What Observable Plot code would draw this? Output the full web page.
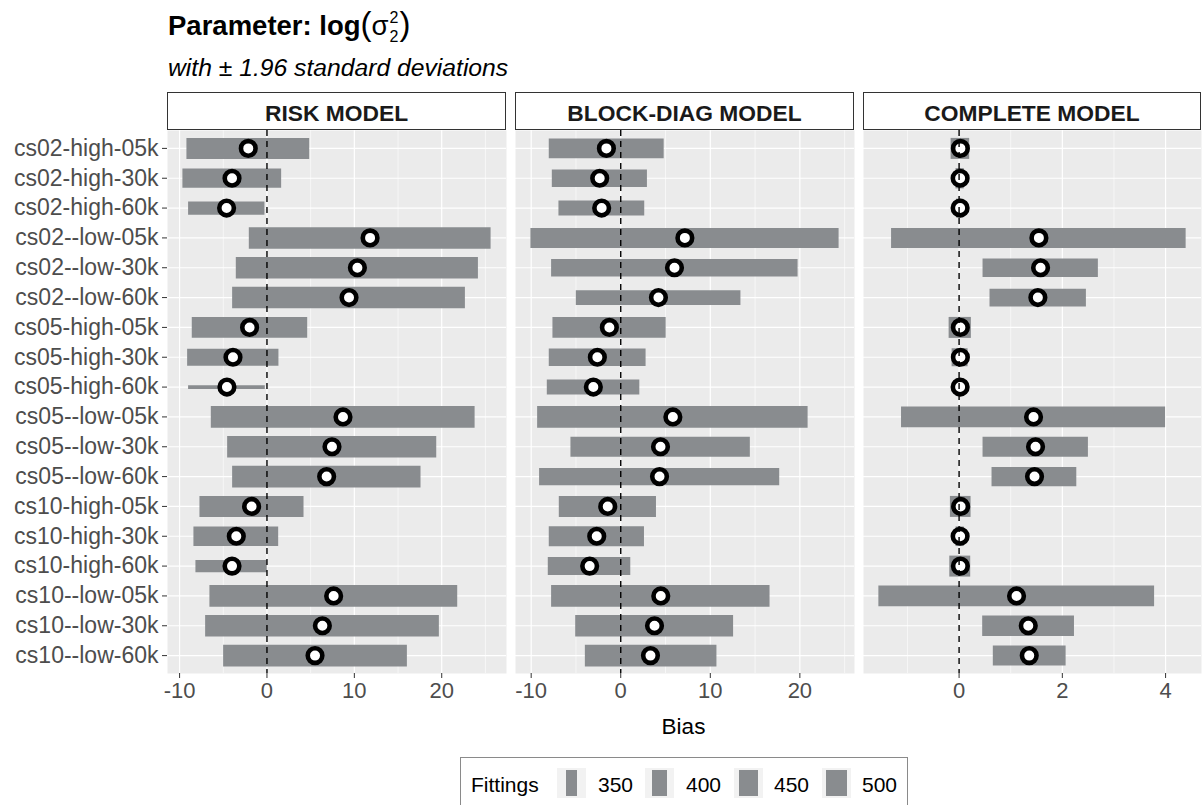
<!DOCTYPE html>
<html><head><meta charset="utf-8">
<script src="https://cdn.jsdelivr.net/npm/d3@7"></script>
<script src="https://cdn.jsdelivr.net/npm/@observablehq/plot@0.6"></script>
<style>
body{margin:0;background:#fff;font-family:"Liberation Sans",Arial,sans-serif;}
#root{position:relative;width:1202px;height:805px;overflow:hidden;background:#fff;}
.abs{position:absolute;line-height:1;white-space:nowrap;}
.strip{position:absolute;top:92px;height:38px;box-sizing:border-box;border:1px solid #333;background:#fff;font-weight:bold;font-size:22.8px;color:#1a1a1a;text-align:center;line-height:1;padding-top:8.5px;white-space:nowrap;}
.paren{font-size:33px;font-weight:normal;line-height:0;}
.ss{display:inline-block;position:relative;width:11px;height:0;}
.ss span{position:absolute;left:1px;font-size:16px;font-weight:normal;line-height:1;}
.plot{position:absolute;top:130px;}
#legend{position:absolute;left:460px;top:757px;width:448px;height:70px;box-sizing:border-box;border:1px solid #8a8a8a;background:#fff;}
.lkey{position:absolute;top:10px;width:29px;height:30px;background:#f2f2f2;}
.lkey div{position:absolute;top:2px;height:26px;background:#898c8f;}
.ltxt{position:absolute;font-size:21px;line-height:1;color:#000;}
</style></head>
<body><div id="root">
<div class="abs" style="left:168px;top:11.5px;font-size:27.5px;color:#000;"><b>Parameter: log</b><span class="paren">(</span><span style="font-weight:normal">σ</span><span class="ss"><span style="top:-24.5px">2</span><span style="top:-5.5px">2</span></span><span class="paren">)</span></div>
<div class="abs" style="left:168px;top:56px;font-size:24.7px;font-style:italic;color:#000;">with ± 1.96 standard deviations</div>
<div class="strip" style="left:167px;width:339px;height:37.5px;">RISK MODEL</div>
<div class="strip" style="left:515px;width:339px;height:37.5px;">BLOCK-DIAG MODEL</div>
<div class="strip" style="left:863px;width:338px;height:37.5px;">COMPLETE MODEL</div>
<div id="p1" class="plot" style="left:0px;"></div>
<div id="p2" class="plot" style="left:515px;"></div>
<div id="p3" class="plot" style="left:863px;"></div>
<div class="abs" style="left:0;width:1367px;text-align:center;top:716px;font-size:22.5px;color:#000;">Bias</div>
<div id="legend"></div>
</div>
<script>
const categories = ["cs02-high-05k","cs02-high-30k","cs02-high-60k","cs02--low-05k","cs02--low-30k","cs02--low-60k","cs05-high-05k","cs05-high-30k","cs05-high-60k","cs05--low-05k","cs05--low-30k","cs05--low-60k","cs10-high-05k","cs10-high-30k","cs10-high-60k","cs10--low-05k","cs10--low-30k","cs10--low-60k"];

const riskLo  = [-9.16,-9.62,-8.97,-2.02,-3.51,-3.93,-8.55,-9.08,-8.97,-6.37,-4.50,-3.93,-7.67,-8.36,-8.13,-6.53,-7.02,-4.96];
const riskEst = [-2.14,-4.00,-4.62,11.80,10.35,9.39,-1.99,-3.89,-4.58,8.70,7.44,6.83,-1.76,-3.51,-4.00,7.63,6.34,5.50];
const riskHi  = [4.89,1.68,-0.23,25.65,24.20,22.71,4.66,1.37,-0.19,23.82,19.43,17.63,4.24,1.34,0.03,21.83,19.73,16.07];
const riskFit = [490,466,382,498,498,498,486,434,246,500,500,500,490,472,368,500,500,500];

const blockLo  = [-7.98,-7.64,-6.90,-10.03,-7.72,-4.96,-7.57,-7.98,-8.20,-9.28,-5.56,-9.06,-6.86,-7.98,-8.09,-7.72,-5.03,-3.95];
const blockEst = [-1.60,-2.35,-2.13,7.16,6.00,4.21,-1.27,-2.61,-3.06,5.82,4.44,4.33,-1.45,-2.68,-3.47,4.47,3.77,3.32];
const blockHi  = [4.85,2.98,2.68,24.38,19.80,13.42,5.07,2.83,2.13,20.92,14.47,17.75,3.99,2.65,1.12,16.67,12.60,10.74];
const blockFit = [472,444,406,476,438,402,486,438,406,500,476,438,490,476,448,500,500,500];

const completeLo  = [-0.155,-0.06,-0.05,-1.308,0.464,0.599,-0.193,-0.135,-0.06,-1.115,0.464,0.638,-0.168,-0.06,-0.18,-1.554,0.457,0.663];
const completeEst = [0.025,0.02,0.02,1.546,1.578,1.526,0.025,0.025,0.02,1.442,1.481,1.461,0.03,0.02,0.025,1.113,1.34,1.359];
const completeHi  = [0.205,0.10,0.09,4.398,2.698,2.466,0.238,0.174,0.10,4.0,2.505,2.28,0.232,0.10,0.225,3.787,2.235,2.073];
const completeFit = [490,480,460,476,458,444,490,448,440,486,476,466,490,470,490,486,486,476];

const riskTicks = [-10,0,10,20], riskMinor = [-5,5,15,25];
const blockTicks = [-10,0,10,20], blockMinor = [-5,5,15,25];
const completeTicks = [0,2,4], completeMinor = [-1,1,3];
const legendBreaks = [350,400,450,500];

const allFit = [...riskFit, ...blockFit, ...completeFit];
const wScale = d3.scaleLinear().domain(d3.extent(allFit)).range([3.6, 21.7]);

function panel(lo, est, hi, fit, ticks, minor, width, marginLeft, showY) {
  const rows = categories.map((c, i) => ({cat: c, lo: lo[i], est: est[i], hi: hi[i], fit: fit[i]}));
  const mn = d3.min(lo), mx = d3.max(hi), pad = (mx - mn) * 0.05;
  return Plot.plot({
    width, height: 588, marginTop: 0, marginBottom: 45, marginLeft, marginRight: 0,
    style: {background: "transparent", overflow: "visible", fontFamily: "Liberation Sans, Arial, sans-serif", fontSize: "22px"},
    x: {domain: [mn - pad, mx + pad]},
    y: {type: "point", domain: categories, padding: 0.6, round: false, axis: showY ? undefined : null},
    marks: [
      Plot.frame({fill: "#ebebeb", stroke: "none"}),
      Plot.ruleX(minor, {stroke: "#fff", strokeWidth: 0.6}),
      Plot.ruleX(ticks, {stroke: "#fff", strokeWidth: 1.2}),
      Plot.ruleY(categories, {stroke: "#fff", strokeWidth: 1.2}),
      Plot.ruleY(rows, {y: "cat", x1: "lo", x2: "hi", stroke: "#898c8f", strokeWidth: d => wScale(d.fit)}),
      Plot.dot(rows, {x: "est", y: "cat", r: 7.3, fill: "#fff", stroke: "#000", strokeWidth: 4.6}),
      Plot.ruleX([0], {stroke: "#000", strokeWidth: 1.4, strokeDasharray: "6,5"}),
      Plot.axisX({ticks, tickFormat: d => String(d), tickSize: 5, tickPadding: 4, fontSize: 22, stroke: "#333", fill: "#4d4d4d", label: null}),
      showY ? Plot.axisY({tickSize: 5, tickPadding: 4, fontSize: 23, stroke: "#333", fill: "#4d4d4d", label: null}) : null
    ]
  });
}

document.getElementById("p1").append(panel(riskLo, riskEst, riskHi, riskFit, riskTicks, riskMinor, 506, 167, true));
document.getElementById("p2").append(panel(blockLo, blockEst, blockHi, blockFit, blockTicks, blockMinor, 339, 0, false));
document.getElementById("p3").append(panel(completeLo, completeEst, completeHi, completeFit, completeTicks, completeMinor, 338, 0, false));

// legend
const lg = document.getElementById("legend");
const t0 = document.createElement("div");
t0.className = "ltxt"; t0.style.left = "10px"; t0.style.top = "16px"; t0.textContent = "Fittings";
lg.append(t0);
const keyLefts = [96, 184, 273, 361], txtLefts = [137, 225, 313, 401];
legendBreaks.forEach((b, i) => {
  const k = document.createElement("div");
  k.className = "lkey"; k.style.left = keyLefts[i] + "px";
  const bar = document.createElement("div");
  const w = wScale(b);
  bar.style.width = w + "px"; bar.style.left = ((29 - w) / 2) + "px";
  k.append(bar); lg.append(k);
  const t = document.createElement("div");
  t.className = "ltxt"; t.style.left = txtLefts[i] + "px"; t.style.top = "16px"; t.textContent = String(b);
  lg.append(t);
});
</script>
</body></html>
